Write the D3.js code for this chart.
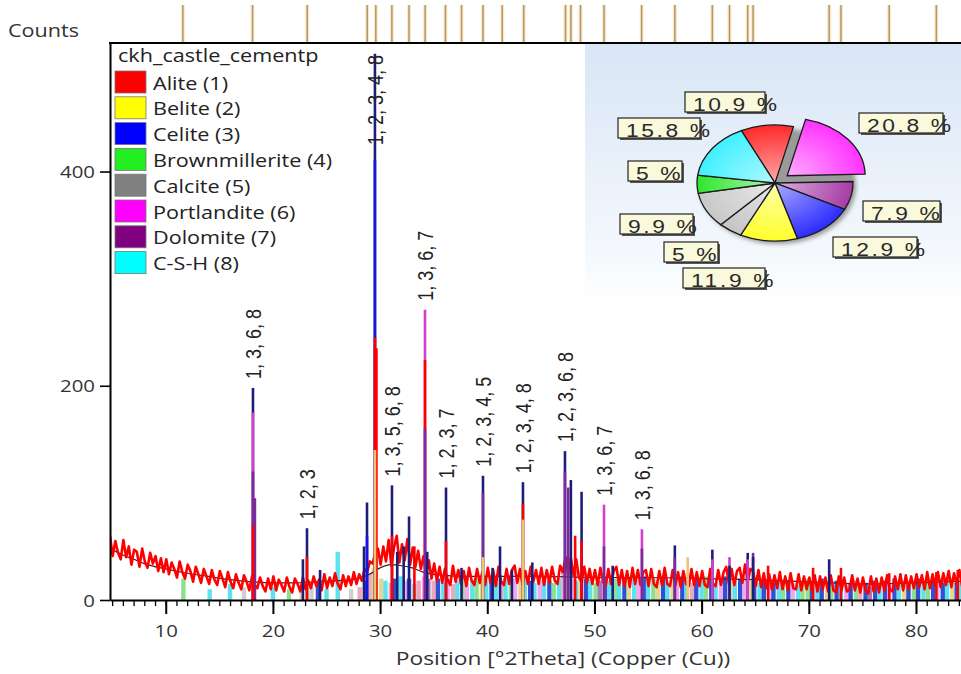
<!DOCTYPE html>
<html>
<head>
<meta charset="utf-8">
<script src="https://cdn.jsdelivr.net/npm/d3@7"></script>
<style>
  html, body { margin: 0; padding: 0; background: #fff; }
  svg { display: block; }
</style>
</head>
<body>
<svg id="chart" width="961" height="674"></svg>
<script>
// ---------------- phases ----------------
const phaseNames = ["Alite", "Belite", "Celite", "Brownmillerite", "Calcite", "Portlandite", "Dolomite", "C-S-H"];
const sampleName = "ckh_castle_cementp";

// ---------------- observed scan ----------------
const scanStart = 4.8;   // °2θ of the first point
const scanStep = 0.25;   // °2θ per point
const observedCounts = [
  60,41,55,44,38,56,40,50,33,47,45,31,48,36,30,44,34,41,27,39,
  26,38,24,35,29,21,36,26,20,33,27,17,31,24,16,29,22,15,28,19,
  14,27,20,12,26,17,11,24,16,10,23,17,9,22,14,11,21,13,8,20,
  10,22,9,19,14,8,21,12,7,20,15,8,21,10,18,11,22,13,19,9,
  24,11,21,13,25,15,10,23,13,22,14,26,15,24,18,29,26,36,34,44,
  48,33,50,36,56,32,49,60,35,52,37,57,33,49,31,46,29,41,24,37,
  20,34,18,31,16,29,19,14,32,17,28,15,27,13,30,18,14,29,16,26,
  14,30,16,28,13,31,17,14,29,15,28,32,16,29,14,27,15,31,17,28,
  15,30,14,28,16,31,18,15,32,26,40,24,39,23,38,21,17,31,16,29,
  15,28,14,30,17,13,29,15,27,31,14,28,13,27,12,30,15,28,14,26,
  28,13,29,15,12,27,14,30,15,13,28,14,26,12,27,15,13,29,14,26,
  13,27,14,12,29,15,13,28,14,26,31,15,29,14,27,30,16,33,17,29,
  27,13,28,12,25,11,24,10,23,11,26,10,22,9,25,11,10,24,9,22,
  10,21,9,23,8,22,10,21,8,23,9,7,22,9,21,8,10,23,9,20,
  7,21,9,6,22,8,20,7,21,9,23,10,8,22,10,24,9,23,10,22,
  11,24,12,23,10,26,11,24,13,26,12,25,14,27,12,25,15,28,13,26
];

// ---------------- fitted background ----------------
const backgroundTheta  = [4.8, 6, 7, 8, 10, 12, 14, 16, 18, 20, 22, 24, 26, 28, 29, 30, 31, 32, 33, 34, 35, 36, 38, 40, 45, 50, 55, 60, 65, 70, 75, 80, 85];
const backgroundCounts = [48, 42, 38, 34, 29, 25, 22, 19, 17, 16, 16, 17, 18, 20, 24, 30, 33, 32, 30, 26, 24, 23, 22, 22, 22, 21, 21, 20, 19, 17, 15, 16, 18];

// ---------------- peak components (series: 0-7 phase, 8 calculated, 9 observed) ----------------
const peakTheta = [
  18.14,18.14,18.14,18.14, 18.32, 22.8, 23.18,23.18, 24.4, 28.5, 28.78,28.78,
  29.52,29.52,29.52,29.52, 29.66, 31.11,31.11, 31.6, 32.2, 32.7, 33.2,
  34.19,34.19,34.19, 34.4, 36.15,36.15, 37.6, 39.6,39.6,39.6, 40.5, 41.19, 42.3,
  43.33,43.33,43.33, 44.2, 47.25,47.25, 47.55, 47.8, 48.2, 48.8,48.8, 50.89,50.89,
  51.7, 54.43,54.43, 57.5,57.5, 58.7, 61.0,61.0, 62.6,62.6, 64.3,64.3, 64.8,64.8,
  66.2, 70.4, 71.9, 73.0, 77.5, 81.9, 83.9
];
const peakCounts = [
  198,175,120,70, 95, 38, 67,40, 28, 50, 91,60,
  510,411,245,140, 235, 107,60, 45, 50, 78, 50,
  271,224,160, 45, 105,55, 30, 116,100,40, 30, 50, 28,
  110,90,75, 35, 139,120, 105, 112, 60, 101,55, 89,50,
  32, 66,48, 51,40, 40, 47,38, 40,32, 44,38, 44,40,
  32, 30, 38, 30, 25, 26, 28
];
const peakSeries = [
  8,5,6,9, 6, 8, 8,9, 8, 8, 8,2,
  8,2,9,1, 9, 8,9, 8, 8, 8, 9,
  5,9,6, 8, 8,9, 8, 8,6,1, 8, 8, 8,
  8,9,1, 8, 8,6, 6, 8, 9, 8,9, 5,6,
  8, 5,6, 8,6, 1, 8,5, 5,8, 8,5, 6,8,
  9, 9, 8, 9, 9, 9, 9
];

// ---------------- reference patterns (stick lines) ----------------
const stickTheta = [
  11.65,14.1,16.0,17.3,18.2,20.0,21.5,22.7,23.6,24.2,25.0,26.05,27.3,28.1,
  28.6,28.9,29.1,29.4,29.6,30.1,30.5,31.0,31.4,31.9,32.3,32.7,33.2,33.6,34.1,34.5,
  35.0,35.4,35.9,36.3,36.8,37.2,37.7,38.1,38.6,39.0,39.5,39.9,40.4,40.8,41.3,41.7,
  42.2,42.6,43.1,43.5,44.0,44.4,44.9,45.3,45.8,46.2,46.7,47.1,47.5,47.9,48.3,48.7,
  49.2,49.6,50.1,50.5,51.0,51.4,51.9,52.3,52.8,53.2,53.7,54.1,54.6,55.0,55.5,55.9,
  56.4,56.8,57.3,57.7,58.2,58.6,59.1,59.5,60.0,60.4,60.9,61.3,61.8,62.2,62.7,63.1,
  63.6,64.0,64.5,64.9,65.4,65.8,66.3,66.7,67.2,67.6,68.1,68.5,69.0,69.4,69.9,70.3,
  70.8,71.2,71.7,72.1,72.6,73.0,73.5,73.9,74.4,74.8,75.3,75.7,76.2,76.6,77.1,77.5,
  78.0,78.4,78.9,79.3,79.8,80.2,80.7,81.1,81.6,82.0,82.5,82.9,83.4,83.8,84.2
];
const stickCounts = [
  20,10,15,12,18,12,10,15,12,15,10,45,10,12,
  18,22,25,30,40,20,18,16,20,22,18,20,15,18,22,20,
  18,20,16,20,15,18,20,16,18,20,24,18,20,16,18,22,
  18,20,26,20,18,16,18,20,18,16,20,30,28,20,18,26,
  20,22,16,18,22,18,20,24,18,16,20,18,22,18,20,18,
  22,16,20,18,22,18,16,20,18,22,20,16,18,22,20,18,
  20,22,18,20,16,18,20,16,18,14,18,16,14,18,20,18,
  16,20,18,16,18,20,14,16,18,14,16,12,18,16,18,14,
  20,16,18,14,16,20,18,16,20,18,16,20,18,16,18
];
const stickPhase = [
  3,7,7,4,0,7,3,1,4,2,7,7,4,0,
  2,7,0,1,3,1,7,0,2,7,5,2,7,0,5,6,
  0,2,7,5,0,7,3,5,7,3,1,7,2,7,0,7,
  3,5,1,7,2,7,5,7,2,3,7,0,1,5,7,1,
  2,7,3,6,2,7,3,7,2,1,7,5,2,7,3,1,
  2,7,1,5,2,7,0,2,7,3,2,7,5,2,1,7,
  2,5,1,2,7,2,5,2,7,3,2,5,7,3,3,2,
  7,2,1,3,2,7,5,2,3,0,2,6,2,7,2,5,
  2,7,1,2,3,2,7,3,2,5,2,7,1,2,7
];

// ---------------- peak list markers (top strip) ----------------
const markerTheta = [11.6,18.1,23.2,28.8,29.6,31.1,32.7,34.2,36.1,37.6,39.6,41.4,43.4,47.3,47.8,48.7,50.9,54.4,57.5,61.0,62.6,64.3,64.8,71.9,73.0,77.5,81.9];

// ---------------- peak annotations ----------------
const labelTheta = [18.14, 23.18, 29.52, 31.11, 34.19, 36.15, 39.6, 43.33, 47.25, 50.89, 54.43];
const labelText  = ["1, 3, 6, 8", "1, 2, 3", "1, 2, 3, 4, 8", "1, 3, 5, 6, 8", "1, 3, 6, 7", "1, 2, 3, 7",
                    "1, 2, 3, 4, 5", "1, 2, 3, 4, 8", "1, 2, 3, 6, 8", "1, 3, 6, 7", "1, 3, 6, 8"];

// ---------------- phase quantification (pie) ----------------
const pieValues = [10.9, 20.8, 7.9, 12.9, 11.9, 5, 9.9, 5, 15.8];
const pieSliceColors = ["#ff2a2a", "#ff33ff", "#a63ca6", "#2c2cff", "#ffff2a", "#c4c4c4", "#c8c8c8", "#2ee62e", "#3ff0ff"];
const pieExplodedIndex = 1;

// ---------------- axis ticks ----------------
const xMajorTicks = [10, 20, 30, 40, 50, 60, 70, 80];
const yMajorTicks = [0, 200, 400];

// ============== styling / layout ==============
const SX = 1.2;                      // horizontal stretch applied to text
const uiFont = "'Open Sans', 'DejaVu Sans', sans-serif";
const numFont = "'Liberation Sans', Arial, sans-serif";
const phaseColors = ["#ff0000", "#ffff00", "#0000ff", "#22ee22", "#808080", "#ff00ff", "#800080", "#00ffff"];
const peakColors  = ["#ff3030", "#e8c878", "#1414e6", "#30d030", "#909090", "#d040c8", "#7a2a9a", "#30d0e0", "#1e1e7a", "#ff0000"];
const stickColors = ["#f2a6bc", "#e6d58e", "#3050d4", "#8ee08e", "#cfcfcf", "#f0a8f0", "#a678b8", "#5ee2f0"];

const plot = { left: 110, right: 961, top: 43, bottom: 600 };

const svg = d3.select("#chart");
const defs = svg.append("defs");

const x = d3.scaleLinear().domain([4.8, 84.2]).range([plot.left, plot.right]);
const y = d3.scaleLinear().domain([0, 520]).range([plot.bottom, plot.top]);

function stretched(parent, px, py, rot) {
  return parent.append("g")
    .attr("transform", `translate(${px},${py}) scale(${SX},1)` + (rot ? ` rotate(${rot})` : ""));
}

defs.append("clipPath").attr("id", "plotClip")
  .append("rect")
  .attr("x", plot.left).attr("y", plot.top)
  .attr("width", plot.right - plot.left).attr("height", plot.bottom - plot.top);

// ---- pie panel background ----
const panelGrad = defs.append("linearGradient").attr("id", "panelGrad")
  .attr("x1", 0).attr("y1", 0).attr("x2", 0).attr("y2", 1);
panelGrad.append("stop").attr("offset", "0%").attr("stop-color", "#d9e6f6");
panelGrad.append("stop").attr("offset", "75%").attr("stop-color", "#f2f7fc");
panelGrad.append("stop").attr("offset", "100%").attr("stop-color", "#ffffff");
svg.append("rect")
  .attr("x", 585).attr("y", plot.top + 1)
  .attr("width", plot.right - 585).attr("height", 262)
  .attr("fill", "url(#panelGrad)");

const plotG = svg.append("g").attr("clip-path", "url(#plotClip)");

// ---- reference sticks ----
plotG.append("g").selectAll("rect")
  .data(stickTheta.map((t, i) => ({ t, c: stickCounts[i], p: stickPhase[i] })))
  .join("rect")
  .attr("x", d => x(d.t) - 2.2)
  .attr("width", 4.4)
  .attr("y", d => y(d.c))
  .attr("height", d => y(0) - y(d.c))
  .attr("fill", d => stickColors[d.p]);

// ---- background (calculated) ----
plotG.append("path")
  .datum(backgroundTheta.map((t, i) => [t, backgroundCounts[i]]))
  .attr("d", d3.line().x(d => x(d[0])).y(d => y(d[1])).curve(d3.curveMonotoneX))
  .attr("fill", "none").attr("stroke", "#3a2030").attr("stroke-width", 1.2);

// ---- observed profile ----
plotG.append("path")
  .datum(observedCounts.map((c, i) => [scanStart + i * scanStep, c]))
  .attr("d", d3.line().x(d => x(d[0])).y(d => y(d[1])))
  .attr("fill", "none").attr("stroke", "#ff0000").attr("stroke-width", 2.6)
  .attr("stroke-linejoin", "round");

// ---- peak components, tallest first ----
const peaks = peakTheta.map((t, i) => ({ t, c: peakCounts[i], s: peakSeries[i] }))
  .sort((a, b) => b.c - a.c);
plotG.append("g").selectAll("line")
  .data(peaks)
  .join("line")
  .attr("x1", d => x(d.t)).attr("x2", d => x(d.t))
  .attr("y1", y(0)).attr("y2", d => y(d.c))
  .attr("stroke", d => peakColors[d.s])
  .attr("stroke-width", 2.6);

// ---- peak annotations ----
const labelG = svg.append("g");
labelTheta.forEach((t, i) => {
  const top = d3.max(peakTheta.map((pt, j) => Math.abs(pt - t) < 0.15 ? peakCounts[j] : 0));
  const g = labelG.append("g");
  const txt = g.append("text")
    .attr("font-family", numFont).attr("font-size", 18).attr("fill", "#222")
    .attr("dy", "0.36em")
    .text(labelText[i]);
  const len = txt.node().getComputedTextLength();
  let bottom = y(top) - 9;
  if (bottom - len < plot.top + 12) bottom = plot.top + 12 + len;
  g.attr("transform", `translate(${x(t)},${bottom}) scale(${SX},1) rotate(-90)`);
});

// ---- peak list markers ----
const markerG = svg.append("g");
markerG.selectAll("line.halo").data(markerTheta).join("line")
  .attr("class", "halo")
  .attr("x1", d => x(d)).attr("x2", d => x(d))
  .attr("y1", 5).attr("y2", plot.top)
  .attr("stroke", "#fbd9a0").attr("stroke-width", 4).attr("opacity", 0.6);
markerG.selectAll("line.tick").data(markerTheta).join("line")
  .attr("class", "tick")
  .attr("x1", d => x(d)).attr("x2", d => x(d))
  .attr("y1", 5).attr("y2", plot.top)
  .attr("stroke", "#b09868").attr("stroke-width", 1.5);

// ---- axes ----
const xMinorTicks = d3.range(5, 85, 1);
const xMinor = svg.append("g").attr("transform", `translate(0,${plot.bottom})`)
  .call(d3.axisBottom(x).tickValues(xMinorTicks).tickSize(6).tickSizeOuter(0).tickFormat(""));
xMinor.select(".domain").remove();
xMinor.selectAll("line").attr("stroke", "#000").attr("stroke-width", 1.3);

const xAxis = svg.append("g").attr("transform", `translate(0,${plot.bottom})`)
  .call(d3.axisBottom(x).tickValues(xMajorTicks).tickSize(14).tickSizeOuter(0).tickPadding(0));
xAxis.select(".domain").attr("stroke", "#000").attr("stroke-width", 2);
xAxis.selectAll("line").attr("stroke", "#000").attr("stroke-width", 2);
xAxis.selectAll("text")
  .attr("font-family", uiFont).attr("font-size", 17).attr("fill", "#333")
  .attr("y", null).attr("dy", null)
  .attr("transform", `translate(0,37) scale(${SX},1)`);

const yAxis = svg.append("g").attr("transform", `translate(${plot.left},0)`)
  .call(d3.axisLeft(y).tickValues(yMajorTicks).tickSize(10).tickSizeOuter(0));
yAxis.select(".domain").attr("stroke", "#000").attr("stroke-width", 2);
yAxis.selectAll("line").attr("stroke", "#000").attr("stroke-width", 1.6);
yAxis.selectAll("text")
  .attr("font-family", uiFont).attr("font-size", 17).attr("fill", "#333")
  .attr("x", -15 / SX).attr("dy", "0.36em")
  .attr("transform", `scale(${SX},1)`);

// frame top edge
svg.append("line")
  .attr("x1", plot.left - 1).attr("x2", plot.right)
  .attr("y1", plot.top).attr("y2", plot.top)
  .attr("stroke", "#000").attr("stroke-width", 2);

// axis titles
stretched(svg, 8, 37).append("text")
  .attr("font-family", uiFont).attr("font-size", 18).attr("fill", "#333")
  .text("Counts");
stretched(svg, 563, 665).append("text")
  .attr("font-family", uiFont).attr("font-size", 19).attr("fill", "#333")
  .attr("text-anchor", "middle")
  .text("Position [°2Theta] (Copper (Cu))");

// ---- legend ----
const legend = svg.append("g");
stretched(legend, 118, 62).append("text")
  .attr("font-family", uiFont).attr("font-size", 18).attr("fill", "#222")
  .text(sampleName);
phaseNames.forEach((name, i) => {
  const top = 71 + i * 25.8;
  legend.append("rect")
    .attr("x", 115).attr("y", top).attr("width", 31).attr("height", 22)
    .attr("fill", phaseColors[i]).attr("stroke", "#777").attr("stroke-width", 0.8);
  stretched(legend, 153, top + 18.5).append("text")
    .attr("font-family", uiFont).attr("font-size", 18).attr("fill", "#222")
    .text(`${name} (${i + 1})`);
});

// ---- pie of phase fractions ----
const pieC = { x: 775, y: 183, rx: 78, ry: 58 };
defs.append("filter").attr("id", "pieShadow").attr("x", "-20%").attr("y", "-20%").attr("width", "140%").attr("height", "140%")
  .append("feGaussianBlur").attr("stdDeviation", 2);
svg.append("ellipse")
  .attr("cx", pieC.x + 3).attr("cy", pieC.y + 3).attr("rx", pieC.rx).attr("ry", pieC.ry)
  .attr("fill", "#9a9a9a").attr("filter", "url(#pieShadow)");

pieSliceColors.forEach((c, i) => {
  const g = defs.append("radialGradient").attr("id", "slice" + i)
    .attr("gradientUnits", "userSpaceOnUse").attr("cx", 0).attr("cy", 0).attr("r", 1);
  g.append("stop").attr("offset", "0%").attr("stop-color", d3.interpolateRgb(c, "#ffffff")(0.6));
  g.append("stop").attr("offset", "100%").attr("stop-color", c);
});

const startA = -25.5 * Math.PI / 180;
const arcs = d3.pie().sort(null).startAngle(startA).endAngle(startA + 2 * Math.PI)(pieValues);
const arc = d3.arc().innerRadius(0).outerRadius(1);
const pieG = svg.append("g")
  .attr("transform", `translate(${pieC.x},${pieC.y}) scale(${pieC.rx},${pieC.ry})`);
pieG.selectAll("path").data(arcs).join("path")
  .attr("d", arc)
  .attr("transform", (d, i) => {
    if (i !== pieExplodedIndex) return null;
    const m = (d.startAngle + d.endAngle) / 2;
    return `translate(${0.2 * Math.sin(m)},${-0.2 * Math.cos(m)})`;
  })
  .attr("fill", (d, i) => `url(#slice${i})`)
  .attr("stroke", "#1a1a1a").attr("stroke-width", 1.3)
  .attr("vector-effect", "non-scaling-stroke");

// percentage tags
const pieLabelBoxes = [
  [685, 92, 80], [859, 113, 84], [863, 201, 77], [833, 237, 84], [683, 268, 82],
  [664, 242, 54], [620, 214, 73], [628, 161, 54], [618, 118, 82]
];
const tagG = svg.append("g");
pieValues.forEach((v, i) => {
  const [bx, by, bw] = pieLabelBoxes[i];
  const bh = 20;
  tagG.append("rect").attr("x", bx + 2).attr("y", by + 2).attr("width", bw).attr("height", bh)
    .attr("fill", "#555");
  tagG.append("rect").attr("x", bx).attr("y", by).attr("width", bw).attr("height", bh)
    .attr("fill", "#fbf9dc").attr("stroke", "#222").attr("stroke-width", 1.2);
  stretched(tagG, bx + 8, by + bh - 1).append("text")
    .attr("font-family", numFont).attr("font-size", 19).attr("fill", "#2a2a2a")
    .attr("letter-spacing", 2.2)
    .text(`${v} %`);
});
</script>
</body>
</html>
